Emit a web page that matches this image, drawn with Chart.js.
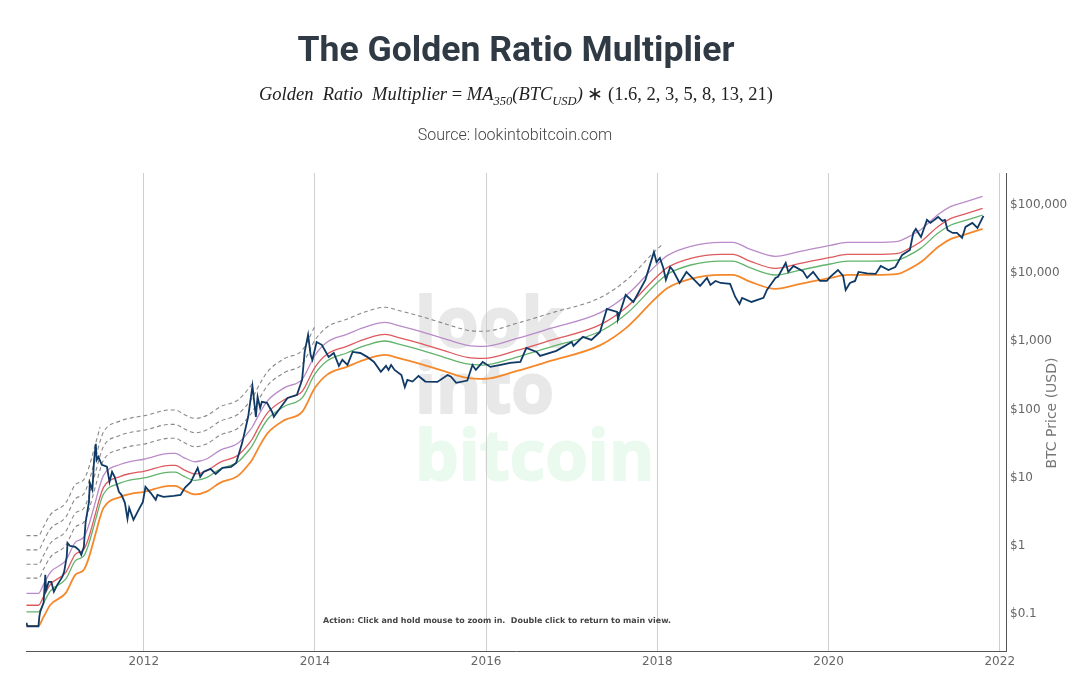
<!DOCTYPE html>
<html><head><meta charset="utf-8">
<script src="https://cdn.jsdelivr.net/npm/chart.js@4/dist/chart.umd.min.js"></script>
<style>
html,body{margin:0;padding:0;background:#fff;overflow:hidden}
#wrap{position:relative;width:1082px;height:687px}
canvas{position:absolute;left:0;top:0}
.t{position:absolute;left:0;width:1032px;text-align:center;white-space:nowrap}
#title{top:28px;font:700 35.6px Roboto,sans-serif;color:#2f3a44;line-height:42px}
#sub{top:82px;font:italic 18.5px "Liberation Serif",serif;color:#222;line-height:24px}
#sub span{font-style:normal}
#sub sub{font-size:12.5px;line-height:0}
#src{top:125px;left:-1px;font:300 16px Roboto,sans-serif;color:#444;line-height:20px}
</style></head><body>
<div id="wrap">
<canvas id="c" width="1082" height="687"></canvas>
<div class="t" id="title">The Golden Ratio Multiplier</div>
<div class="t" id="sub">Golden&nbsp; Ratio&nbsp; Multiplier <span>=</span> MA<sub>350</sub>(BTC<sub>USD</sub>)<span> ∗ (1.6, 2, 3, 5, 8, 13, 21)</span></div>
<div class="t" id="src">Source: lookintobitcoin.com</div>
</div>
<script>
const xTicks=[2012,2014,2016,2018,2020,2022];
const yTicks=[0.1,1,10,100,1000,10000,100000];

const maYears=[2010.63,2010.77,2010.83,2010.91,2011.09,2011.20,2011.30,2011.35,2011.44,2011.49,2011.53,2011.73,2011.85,2012.00,2012.31,2012.37,2012.46,2012.60,2012.74,2012.89,2013.10,2013.24,2013.27,2013.36,2013.45,2013.65,2013.85,2014.00,2014.14,2014.37,2014.61,2014.82,2014.99,2015.23,2015.50,2015.78,2015.97,2016.36,2016.75,2017.34,2017.65,2017.96,2018.06,2018.12,2018.39,2018.74,2018.88,2019.09,2019.38,2019.67,2020.02,2020.22,2020.53,2020.81,2020.92,2021.08,2021.28,2021.43,2021.58,2021.80];
const ma350=[0.0628,0.0628,0.0851,0.1276,0.191,0.351,0.416,0.582,1.45,2.45,3.37,4.89,5.41,5.79,7.08,7.08,6.19,5.32,5.89,7.84,9.93,15.4,17.4,28.3,42.4,65.8,86.2,194,301,394,516,590,525,436,344,272,262,344,482,828,1520,3780,4950,5670,7690,8790,8790,6950,5480,6490,7950,8790,8790,9100,10400,13600,22600,29700,34000,41600];
const ma350x1_6=[0.1005,0.1005,0.136,0.204,0.306,0.562,0.666,0.931,2.32,3.92,5.39,7.82,8.66,9.26,11.3,11.3,9.9,8.51,9.42,12.5,15.9,24.6,27.8,45.3,67.8,105,138,310,482,630,826,944,840,698,550,435,419,550,771,1325,2430,6050,7920,9070,12300,14060,14060,11120,8770,10380,12720,14060,14060,14560,16640,21760,36160,47520,54400,66560];
const ma350x2=[0.1256,0.1256,0.170,0.255,0.382,0.702,0.832,1.16,2.90,4.9,6.74,9.78,10.8,11.6,14.2,14.2,12.4,10.6,11.8,15.7,19.9,30.8,34.8,56.6,84.8,132,172,388,602,788,1032,1180,1050,872,688,544,524,688,964,1656,3040,7560,9900,11340,15380,17580,17580,13900,10960,12980,15900,17580,17580,18200,20800,27200,45200,59400,68000,83200];
const ma350x3=[0.188,0.188,0.255,0.383,0.573,1.05,1.25,1.75,4.35,7.35,10.1,14.7,16.2,17.4,21.2,21.2,18.6,16.0,17.7,23.5,29.8,46.2,52.2,84.9,127,197,259,582,903,1182,1548,1770,1575,1308,1032,816,786,1032,1446,2484,4560,11340,14850,17010,23070,26370,26370,20850,16440,19470,23850,26370,26370,27300,31200,40800,67800,89100,102000,124800];
const ma350x5=[0.314,0.314,0.426,0.638,0.955,1.76,2.08,2.91,7.25,12.25,16.9,24.5,27.1,29.0,35.4,35.4,31.0,26.6,29.5,39.2,49.7,77,87,142,212,329,431,970,1505,1970,2580,2950,2625,2180,1720,1360,1310,1720,2410,4140,7600,18900,24750];
const ma350x8=[0.502,0.502,0.681,1.02,1.53,2.81,3.33,4.66,11.6,19.6,27.0,39.1,43.3,46.3,56.6,56.6,49.5,42.6,47.1,62.7,79.4,123,139,226,339,527,690,1552];
const ma350x13=[0.816,0.816,1.11,1.66,2.48,4.56,5.41,7.57,18.9,31.9,43.8,63.6,70.3,75.3,92,92,80.5,69.2,76.6,102,129,200,226];
const ma350x21=[1.32,1.32,1.79,2.68,4.01,7.37,8.74,12.2,30.5,51.5];

const priceYears=[2010.63,2010.64,2010.77,2010.78,2010.79,2010.83,2010.85,2010.86,2010.89,2010.92,2010.95,2010.99,2011.05,2011.07,2011.10,2011.11,2011.14,2011.20,2011.24,2011.27,2011.30,2011.32,2011.36,2011.37,2011.40,2011.42,2011.44,2011.45,2011.47,2011.51,2011.57,2011.60,2011.63,2011.66,2011.71,2011.74,2011.78,2011.81,2011.83,2011.88,2011.94,2011.99,2012.02,2012.05,2012.08,2012.14,2012.16,2012.23,2012.35,2012.43,2012.48,2012.55,2012.63,2012.66,2012.70,2012.78,2012.84,2012.92,2013.02,2013.08,2013.15,2013.19,2013.22,2013.27,2013.31,2013.33,2013.36,2013.38,2013.44,2013.50,2013.52,2013.56,2013.68,2013.79,2013.85,2013.88,2013.92,2013.95,2013.97,2014.02,2014.08,2014.16,2014.22,2014.28,2014.32,2014.38,2014.44,2014.53,2014.61,2014.69,2014.77,2014.83,2014.86,2014.89,2014.93,2015.01,2015.05,2015.08,2015.14,2015.21,2015.29,2015.43,2015.55,2015.59,2015.65,2015.78,2015.84,2015.88,2015.96,2016.05,2016.17,2016.28,2016.40,2016.47,2016.59,2016.63,2016.82,2017.00,2017.02,2017.13,2017.23,2017.33,2017.41,2017.53,2017.54,2017.63,2017.72,2017.86,2017.96,2017.99,2018.03,2018.07,2018.10,2018.15,2018.18,2018.26,2018.34,2018.42,2018.50,2018.58,2018.62,2018.68,2018.74,2018.85,2018.91,2018.96,2018.99,2019.10,2019.24,2019.28,2019.38,2019.41,2019.50,2019.53,2019.59,2019.70,2019.75,2019.82,2019.90,2019.98,2020.02,2020.11,2020.17,2020.20,2020.25,2020.31,2020.35,2020.45,2020.55,2020.61,2020.70,2020.78,2020.86,2020.95,2020.99,2021.02,2021.08,2021.15,2021.19,2021.28,2021.33,2021.36,2021.39,2021.45,2021.50,2021.56,2021.60,2021.68,2021.74,2021.81];
const priceUsd=[0.0694,0.0618,0.0618,0.085,0.1,0.136,0.351,0.21,0.277,0.277,0.198,0.25,0.33,0.388,0.645,1.03,0.93,0.90,0.82,0.69,0.90,2.03,4.13,7.84,6.19,17,29.3,17,18.9,14.4,13.5,8.11,11.4,9.61,5.79,5.23,3.99,2.33,3.37,2.25,3.15,4.13,6.85,6.19,5.60,4.42,5.23,4.89,5.06,5.23,6.63,8.11,13,9.61,11.4,12.6,10.6,13,13.5,15.4,30.3,50,73,207,73,143,98,121,117,86,73,86,138,153,254,654,1160,588,500,913,830,553,630,408,500,421,654,630,553,466,333,408,356,421,356,300,200,254,240,290,240,237,300,283,230,248,421,356,466,394,421,450,466,750,654,570,676,913,800,1085,980,1280,2790,2520,1990,4470,3530,7440,19000,13600,15600,11100,7440,11500,10400,6700,9730,7690,6070,7950,6280,7180,6700,6500,4180,3300,4050,3530,4050,5300,7950,8270,13200,9730,11900,10000,7950,9730,7180,7180,8230,10400,8500,5300,6700,7180,9730,9300,9100,11900,10400,11500,17300,20450,36300,41500,31700,56400,50900,62300,54500,56400,40200,36300,36300,30700,44500,50900,42900,64500];

const zip=(xs,ys)=>ys.map((y,i)=>({x:xs[i],y}));
const maLine=(label,vals,color,width,dash)=>({label,data:zip(maYears,vals),borderColor:color,borderWidth:width,borderDash:dash||[],pointRadius:0,cubicInterpolationMode:'monotone',order:5});

const overlay={id:'overlay',
 beforeDraw(ch){const g=ch.ctx;g.save();g.font='700 69px "Open Sans",sans-serif';g.textBaseline='alphabetic';g.textAlign='left';g.lineWidth=2;g.lineJoin='round';
  g.fillStyle=g.strokeStyle='#e8e8e8';
  g.fillText('look',415,347);g.strokeText('look',415,347);g.fillText('into',415,413);g.strokeText('into',415,413);
  g.fillStyle=g.strokeStyle='#eafaee';
  g.fillText('bitcoin',415,480);g.strokeText('bitcoin',415,480);g.restore();},
 afterDraw(ch){const g=ch.ctx;g.save();
  g.font='700 7.95px "DejaVu Sans",sans-serif';g.fillStyle='#444';g.textBaseline='middle';g.textAlign='left';
  g.fillText('Action: Click and hold mouse to zoom in.  Double click to return to main view.',323,620.5);
  g.translate(1052,413);g.rotate(-Math.PI/2);g.font='14px "DejaVu Sans",sans-serif';g.fillStyle='#777';g.textAlign='center';
  g.fillText('BTC Price (USD)',0,0);g.restore();}
};

new Chart(document.getElementById('c'),{type:'line',
 data:{datasets:[
  maLine('350 DMA x21',ma350x21,'#888888',1.1,[4,3]),
  maLine('350 DMA x13',ma350x13,'#888888',1.1,[4,3]),
  maLine('350 DMA x8',ma350x8,'#888888',1.1,[4,3]),
  maLine('350 DMA x5',ma350x5,'#888888',1.1,[4,3]),
  maLine('350 DMA x3',ma350x3,'#b98cc9',1.3),
  maLine('350 DMA x2',ma350x2,'#dd5a5e',1.3),
  maLine('350 DMA x1.6',ma350x1_6,'#62b36b',1.3),
  maLine('350 DMA',ma350,'#f5882a',1.8),
  {label:'BTC Price',data:zip(priceYears,priceUsd),borderColor:'#103a66',borderWidth:1.8,pointRadius:0,tension:0,order:1}
 ]},
 options:{responsive:false,animation:false,devicePixelRatio:1,
  layout:{padding:{left:26,top:173,right:0,bottom:0}},
  plugins:{legend:{display:false},tooltip:{enabled:false},title:{display:false}},
  scales:{
   x:{type:'linear',min:2010.6245,max:2022.0731,
    afterBuildTicks(s){s.ticks=xTicks.map(v=>({value:v}));},
    afterFit(s){s.height=36;},
    grid:{color:'#cfcfcf',lineWidth:1,drawTicks:false},
    border:{display:true,color:'#555',width:1},
    ticks:{callback:v=>String(v),color:'#666',font:{family:'"DejaVu Sans"',size:12},padding:4,maxRotation:0,autoSkip:false}},
   y:{type:'logarithmic',position:'right',min:0.0268,max:275000,
    afterBuildTicks(s){s.ticks=yTicks.map(v=>({value:v}));},
    afterFit(s){s.width=76;},
    grid:{display:false,drawTicks:false},
    border:{display:true,color:'#555',width:1},
    ticks:{callback:v=>'$'+(v>=1?Number(v).toLocaleString('en-US'):String(v)),color:'#666',font:{family:'"DejaVu Sans"',size:12},padding:4,labelOffset:2,autoSkip:false}}
  }},
 plugins:[overlay]});
</script>
</body></html>
